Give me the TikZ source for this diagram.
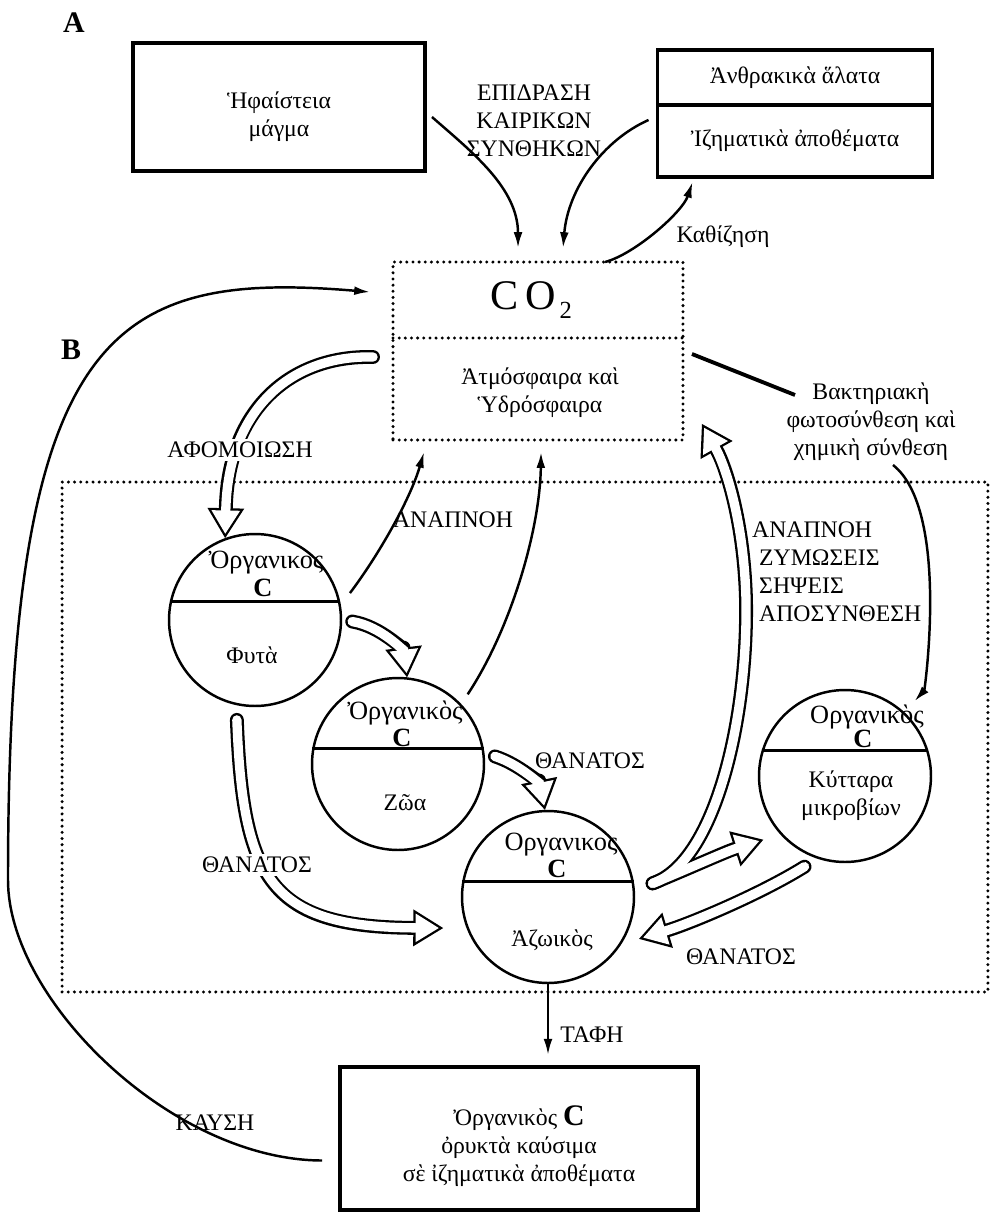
\documentclass[tikz,border=0pt]{standalone}
\usepackage{fontspec}
\setmainfont{Liberation Serif}
\usetikzlibrary{arrows.meta,positioning,calc}

\tikzset{
  box/.style={draw, rectangle, line width=1.8pt, inner sep=0pt, outer sep=0pt, align=center},
  dotline/.style={line width=1.9pt, line cap=round, dash pattern=on 0pt off 3.5pt},
  region/.style={draw, rectangle, dotline, inner sep=0pt, outer sep=0pt},
  pool/.style={draw, circle, line width=1.4pt, minimum size=3.44cm, inner sep=0pt},
  flow/.style={line width=1.4pt, ->},
  hollowout/.style={line width=7.9pt, line cap=round, -{Triangle[length=17pt, width=21pt, line width=0pt]}},
  hollowin/.style={white, line width=5.3pt, line cap=round, shorten >=2.5pt, -{Triangle[length=13.2pt, width=16.3pt, line width=0pt]}},
  hollowflow/.style={hollowout, postaction={draw, hollowin}},
  cut/.style={fill=white, inner sep=1.5pt},
  orgC/.style={font=\fontsize{15}{15}\selectfont},
}

\begin{document}
\begin{tikzpicture}[x=0.02cm, y=-0.02cm, font=\fontsize{13.5}{16}\selectfont, >={Latex[length=9pt, width=5pt]}]
\useasboundingbox (0,0) rectangle (994,1214);

% A
\node[font=\fontsize{17}{17}\selectfont\bfseries] (partA) at (74,23) {A};
\node[box, minimum width=5.84cm, minimum height=2.56cm] (volc) at (279,107) {};
\node[align=center] (volcT) at (279,117) {Ἡφαίστεια\\μάγμα};
\node[box, minimum width=5.5cm, minimum height=1.1cm] (carb) at (795,77.5) {Ἀνθρακικὰ ἅλατα};
\node[box, minimum width=5.5cm, minimum height=1.44cm] (sedim) at (795,141) {Ἰζηματικὰ ἀποθέματα};
\node[align=center] (weather) at (534,121) {ΕΠΙΔΡΑΣΗ\\ΚΑΙΡΙΚΩΝ\\ΣΥΝΘΗΚΩΝ};
\node (sink) at (723,237) {Καθίζηση};

% CO2
\node[region, minimum width=5.8cm, minimum height=3.56cm] (co2) at (538,351) {};
\draw[dotline] ($(co2.west)+(0,-13)$) -- ($(co2.east)+(0,-13)$);
\node[font=\fontsize{24}{24}\selectfont] (co2T) at (531,300) {C\,O\raisebox{-5pt}{\fontsize{14}{14}\selectfont\,2}};
\node[align=center] (atmo) at (540,393) {Ἀτμόσφαιρα καὶ\\Ὑδρόσφαιρα};

% B
\node[font=\fontsize{17}{17}\selectfont\bfseries] (partB) at (71,350) {B};
\node[region, minimum width=18.52cm, minimum height=10.2cm] (bio) at (525,737) {};

% δεξαμενές
\node[pool] (fyta) at (255,620) {};
\draw[line width=1.7pt] (fyta.168) -- (fyta.12);
\node[orgC] (fytaO) at (266,563) {Ὀργανικος};
\node[font=\fontsize{15}{15}\selectfont\bfseries] (fytaC) at (263,588) {C};
\node (fytaB) at (252,655) {Φυτὰ};

\node[pool] (zoa) at (398,764) {};
\draw[line width=1.7pt] (zoa.170) -- (zoa.10);
\node[orgC] (zoaO) at (405,713) {Ὀργανικὸς};
\node[font=\fontsize{15}{15}\selectfont\bfseries] (zoaC) at (402,738) {C};
\node (zoaB) at (405,803) {Ζῶα};

\node[pool] (azo) at (548,897) {};
\draw[line width=1.7pt] (azo.170) -- (azo.10);
\node[orgC] (azoO) at (561,845) {Οργανικος};
\node[font=\fontsize{15}{15}\selectfont\bfseries] (azoC) at (557,869) {C};
\node (azoB) at (552,940) {Ἀζωικὸς};

\node[pool] (kyt) at (845,776) {};
\draw[line width=1.7pt] (kyt.163) -- (kyt.17);
\node[orgC] (kytO) at (867,717) {Οργανικὸς};
\node[font=\fontsize{15}{15}\selectfont\bfseries] (kytC) at (863,739) {C};
\node[align=center] (kytB) at (851,796) {Κύτταρα\\μικροβίων};

\node[box, minimum width=7.16cm, minimum height=2.86cm] (fuel) at (519,1138.5) {};
\node[align=center] (fuelT) at (519,1146)
  {Ὀργανικὸς {\fontsize{17}{17}\selectfont\bfseries C}\\ὀρυκτὰ καύσιμα\\σὲ ἰζηματικὰ ἀποθέματα};

\node[align=center] (bact) at (871,422) {Βακτηριακὴ\\φωτοσύνθεση καὶ\\χημικὴ σύνθεση};

% γεωλογικές ροές
\draw[flow] ($(volc.east)+(7,10)$) .. controls +(40,35) and +(0,-60) .. ($(co2.north west)+(125,-14)$);
\draw[flow] ($(sedim.west)+(-9,-21)$) .. controls +(-45,20) and +(5,-60) .. ($(co2.north west)+(170,-14)$);
\draw[flow] ($(co2.north west)+(212,0)$) .. controls +(30,-8) and +(-10,30) .. ($(sedim.south west)+(35,5)$);

% καύση
\draw[flow] ($(fuel.west)+(-18,22)$) .. controls (172,1160) and (8,1000) .. (8,880)
  .. controls (8,330) and (110,270) .. ($(co2.north west)+(-23,30)$);

% αναπνοή
\draw[flow] ($(fyta.18)+(12,0)$) .. controls +(28,-37) and +(-14,48) .. ($(co2.south west)+(31,12)$);
\draw[flow] ($(zoa.45)+(8,-8)$) .. controls +(43,-65) and +(-1,78) .. ($(co2.south west)+(148,12)$);

% βακτήρια
\draw[line width=2.2pt] ($(co2.east)+(9,3)$) -- ($(bact.center)+(-76,-27)$);
\draw[flow] ($(bact.center)+(22,43)$) .. controls +(57,45) and +(10,-11) .. ($(kyt.47)+(10,-11)$);

% ταφή
\draw[flow, line width=1.2pt, shorten >=7pt] (azo.south) -- (azo.south |- fuel.north);

% κοίλα βέλη
\draw[hollowflow] ($(co2.west)+(-20,6)$) .. controls (290,355) and (228,410) .. (fyta.110);
\draw[hollowflow] ($(fyta.-1)+(10,0)$) .. controls +(30,5) and +(-3,-25) .. (zoa.84);
\draw[hollowflow] ($(zoa.5)+(10,0)$) .. controls +(25,8) and +(-5,-25) .. (azo.92);
\draw[hollowflow] ($(fyta.-100)+(-3,14)$) .. controls (243,880) and (270,927) .. ($(azo.196)+(-21,7)$);
\draw[hollowflow] ($(kyt.-114)+(-5,11)$) .. controls +(-45,28) and +(50,-15) .. ($(azo.-25)+(12,5)$);

\coordinate (fork) at ($(azo.7)+(18,-3)$);
\coordinate (forkUp) at ($(co2.south east)+(19,-16)$);
\coordinate (forkRt) at ($(kyt.-142)+(-13,10)$);
\draw[hollowout] (fork) .. controls (715,862) and (748,720) .. (746,600) .. controls (744,520) and (725,465) .. (forkUp);
\draw[hollowout] (fork) .. controls (690,868) and (725,852) .. (forkRt);
\draw[hollowin] (fork) .. controls (715,862) and (748,720) .. (746,600) .. controls (744,520) and (725,465) .. (forkUp);
\draw[hollowin] (fork) .. controls (690,868) and (725,852) .. (forkRt);

% ετικέτες
\node[cut] (assim) at (240,450) {ΑΦΟΜΟΙΩΣΗ};
\node (resp) at (453,520) {ΑΝΑΠΝΟΗ};
\node[align=left, anchor=west] (decomp) at (746,572) {ΑΝΑΠΝΟΗ\\\hspace{4pt}ΖΥΜΩΣΕΙΣ\\\hspace{4pt}ΣΗΨΕΙΣ\\\hspace{4pt}ΑΠΟΣΥΝΘΕΣΗ};
\node[cut] (deathF) at (257,865) {ΘΑΝΑΤΟΣ};
\node (deathZ) at (590,761) {ΘΑΝΑΤΟΣ};
\node (deathK) at (741,957) {ΘΑΝΑΤΟΣ};
\node (burial) at (592,1035) {ΤΑΦΗ};
\node (burn) at (215,1123) {ΚΑΥΣΗ};
\end{tikzpicture}
\end{document}
